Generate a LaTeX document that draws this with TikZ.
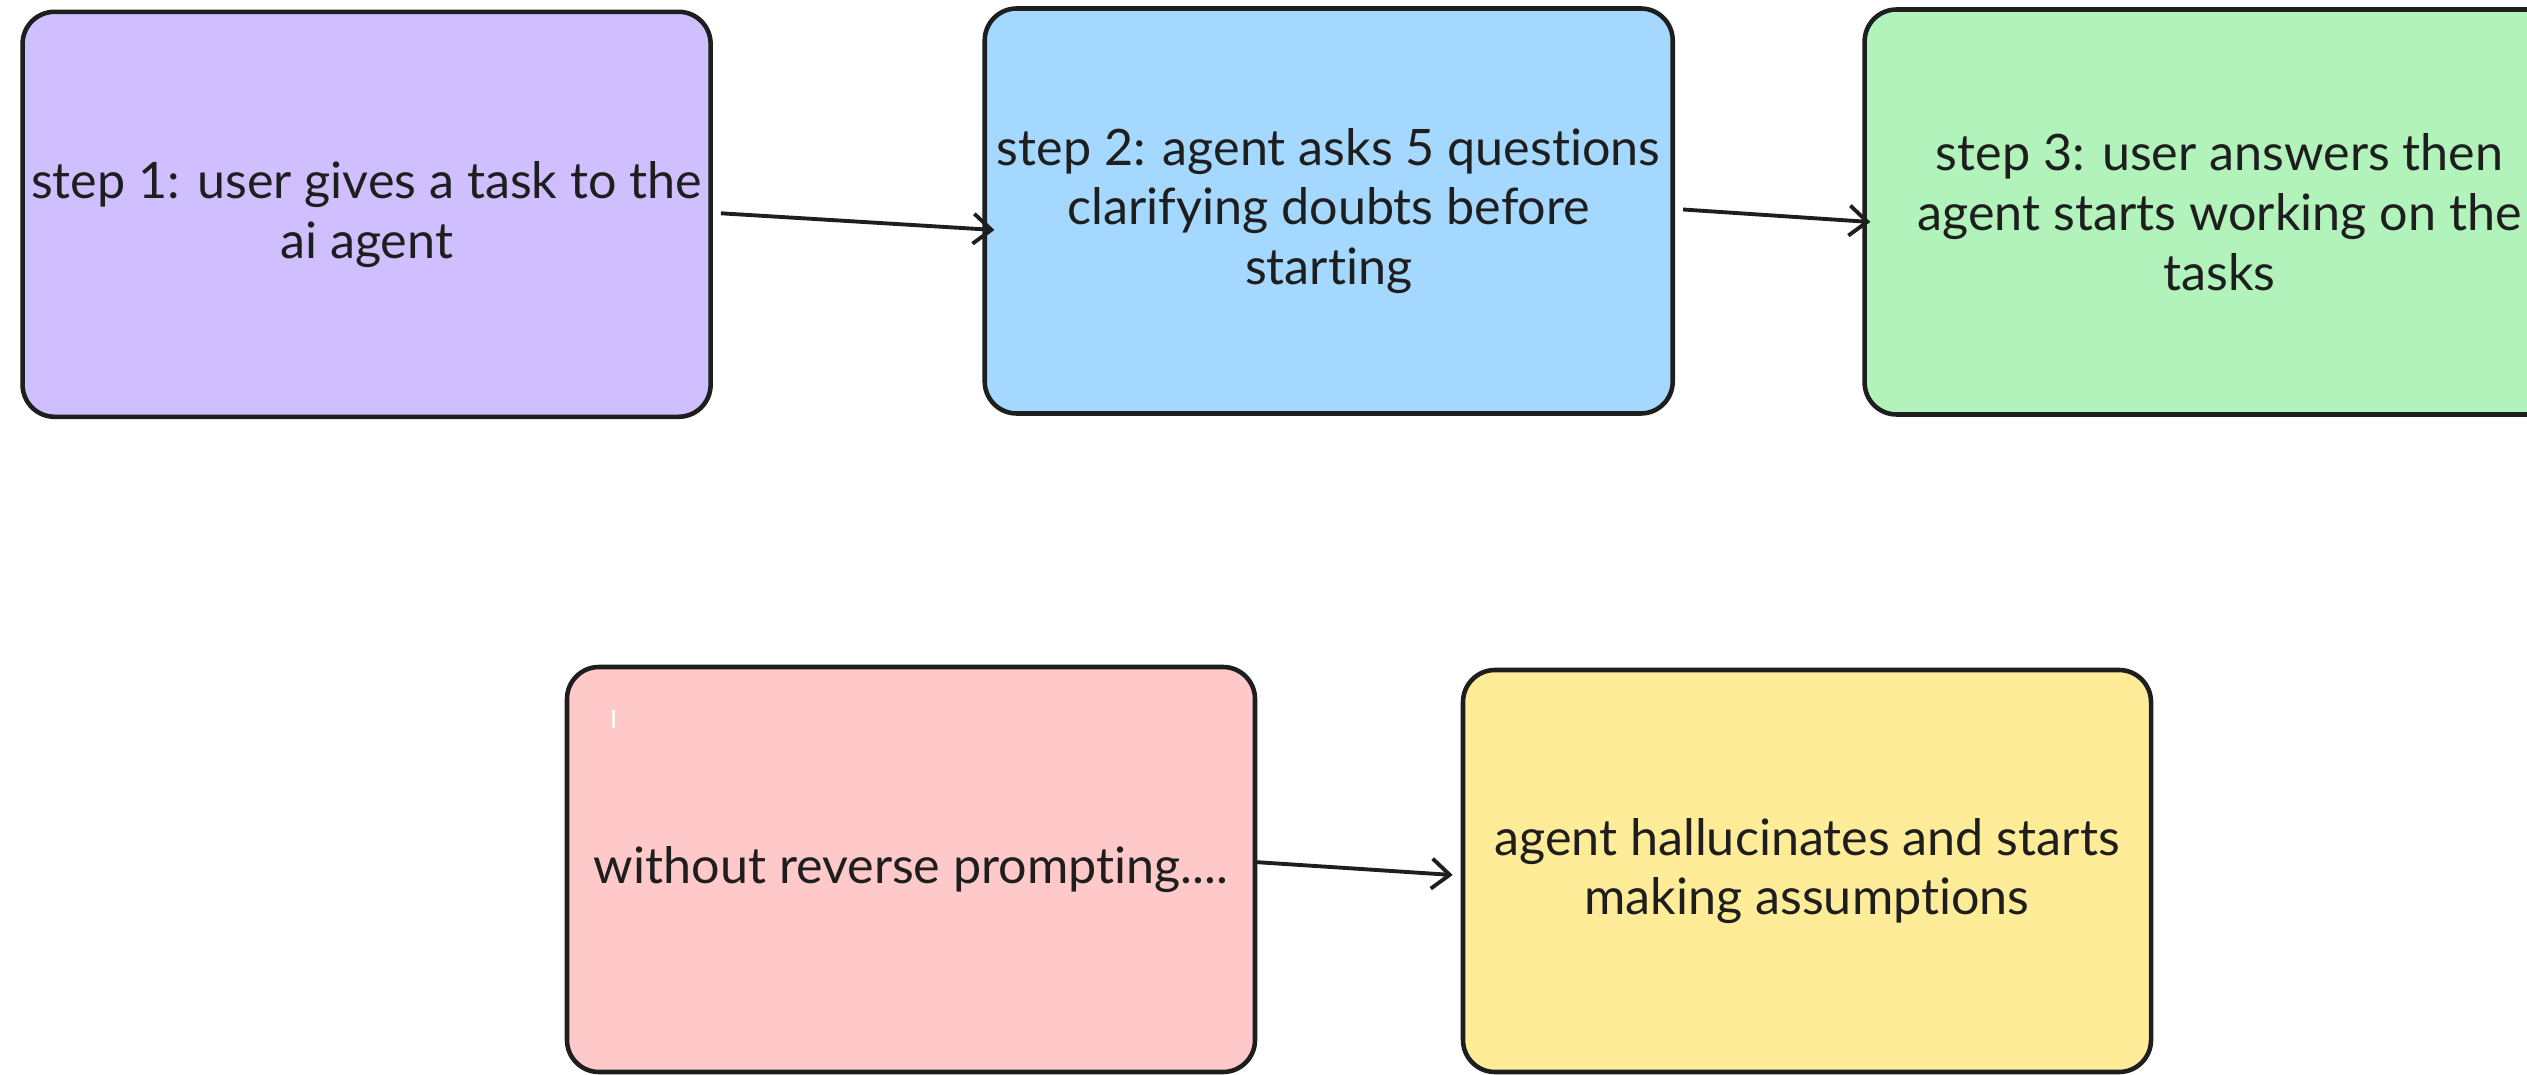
\documentclass[tikz,border=0pt]{standalone}
\usepackage{fontspec}
\setmainfont[Ligatures=NoCommon]{Lato}
\usetikzlibrary{arrows.meta}
\definecolor{strokec}{HTML}{1E1E1E}
\definecolor{fpurple}{HTML}{D0BFFF}
\definecolor{fblue}{HTML}{A5D8FF}
\definecolor{fgreen}{HTML}{B2F2BB}
\definecolor{fpink}{HTML}{FFC9C9}
\definecolor{fyellow}{HTML}{FFEC99}
\tikzset{
  card/.style={draw=strokec, line width=1.3pt, rounded corners=0.32cm,
    minimum width=6.88cm, minimum height=4.05cm, align=center,
    font=\fontsize{14.3}{17}\selectfont, text=strokec, inner sep=0pt},
  arr/.style={draw=strokec, line width=1.1pt,
    -{Straight Barb[length=0.18cm, width=0.3cm, line width=1.1pt]}}
}
\begin{document}
\begin{tikzpicture}
\clip (0,0) rectangle (25.27,-10.75);
\fill[white] (0,0) rectangle (25.27,-10.75);
\node[card, fill=fpurple] (b1) at (3.666,-2.143) {step 1: user gives a task to the\\ai agent};
\node[card, fill=fblue] (b2) at (13.287,-2.11) {step 2: agent asks 5 questions\\clarifying doubts before\\starting};
\node[card, fill=fgreen, minimum width=7.1cm] (b3) at (22.196,-2.12) {step 3: user answers then\\agent starts working on the\\tasks};
\node[card, fill=fpink] (b4) at (9.11,-8.695) {without reverse prompting....};
\node[card, fill=fyellow, minimum height=4.02cm] (b5) at (18.07,-8.71) {agent hallucinates and starts\\making assumptions};
\fill[white, opacity=0.85] (6.12,-7.10) rectangle (6.15,-7.28);
\draw[arr] ([xshift=0.08cm,yshift=0.01cm]b1.east) -- ([xshift=0.12cm,yshift=-0.19cm]b2.west);
\draw[arr] ([xshift=0.08cm,yshift=0.015cm]b2.east) -- ([xshift=0.08cm,yshift=-0.10cm]b3.west);
\draw[arr] ([xshift=-0.03cm,yshift=0.075cm]b4.east) -- ([xshift=-0.08cm,yshift=-0.04cm]b5.west);
\end{tikzpicture}
\end{document}
